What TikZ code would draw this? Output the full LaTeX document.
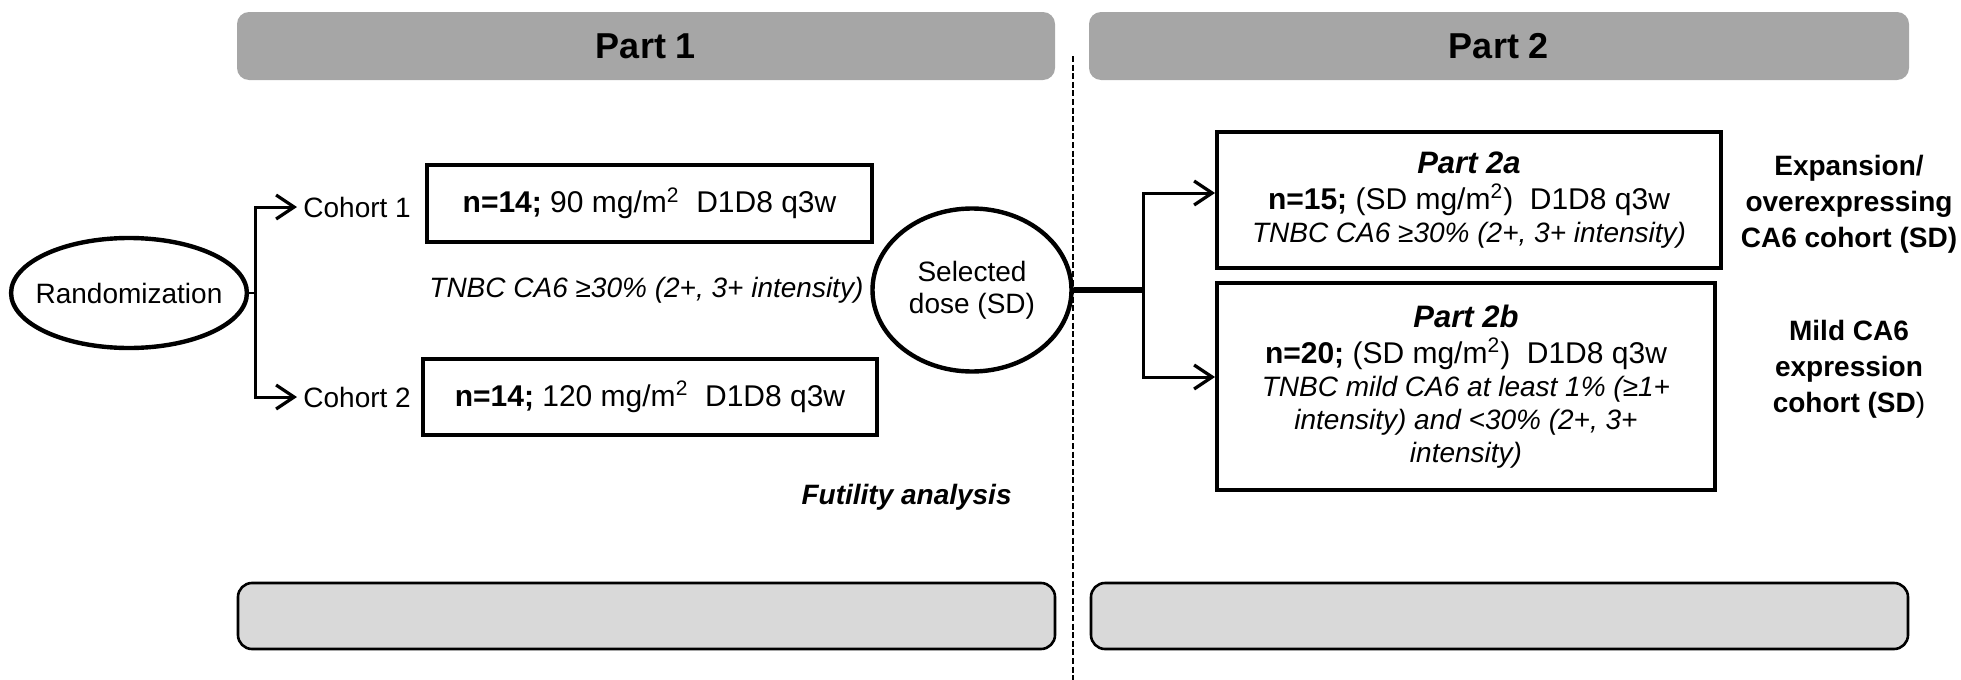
\documentclass[tikz,border=0pt]{standalone}
\usepackage{fontspec}
\setmainfont{Liberation Sans}
\usepackage{xcolor}
\definecolor{barhead}{HTML}{A6A6A6}
\definecolor{barfoot}{HTML}{D9D9D9}
\usetikzlibrary{shapes.geometric, arrows.meta, positioning, calc}

\begin{document}
\begin{tikzpicture}[
  x=0.5pt, y=-0.5pt,
  every node/.style={font=\fontsize{14}{17}\selectfont, inner sep=0pt},
  partbar/.style={fill=barhead, rounded corners=6pt, minimum height=34pt,
                  font=\fontsize{18}{21}\selectfont\bfseries},
  footbar/.style={fill=barfoot, draw=black, line width=1.3pt, rounded corners=7pt,
                  minimum height=33pt},
  dosebox/.style={draw, line width=2pt, align=center, font=\fontsize{15}{16.5}\selectfont},
  armtext/.style={anchor=west, inner sep=3pt},
  stepnote/.style={align=center, font=\fontsize{14}{18}\selectfont\bfseries},
  armline/.style={line width=1.5pt, -{Straight Barb[length=9pt, width=12pt, line width=1.6pt]}},
  feedline/.style={line width=3pt}
]
  \useasboundingbox (0,0) rectangle (1961,680);

  % Phase headers and empty footers
  \node[partbar, minimum width=409pt] (hdr1) at (646,46) {Part 1};
  \node[partbar, minimum width=410pt] (hdr2) at (1499,46) {Part 2};
  \node[footbar, minimum width=408.5pt] (ftr1) at (646.5,616) {};
  \node[footbar, minimum width=408.5pt] (ftr2) at (1499.5,616) {};

  % Divider between the two parts
  \coordinate (divtop) at (1073,56);
  \coordinate (divbot) at (1073,680);
  \draw[line width=1pt, dash pattern=on 3pt off 1.3pt] (divtop) -- (divbot);

  % Part 1: randomization into two cohorts
  \node[ellipse, draw, line width=2.2pt, inner xsep=-5pt, minimum width=116pt, minimum height=55pt]
    (rand) at (129,293) {Randomization};
  \node[armtext] (coh1) at (297,207) {Cohort 1};
  \node[armtext] (coh2) at (297,397) {Cohort 2};
  \node[dosebox, minimum width=222.5pt, minimum height=38.5pt] (dose1) at (649.5,203.5)
    {\textbf{n=14;} 90 mg/m\textsuperscript{2}~~D1D8 q3w};
  \node[dosebox, minimum width=227pt, minimum height=38pt] (dose2) at (650,397)
    {\textbf{n=14;} 120 mg/m\textsuperscript{2}~~D1D8 q3w};
  \node[anchor=west, font=\fontsize{14}{17}\selectfont\itshape] (crit1) at (429,290)
    {TNBC CA6 ≥30\% (2+, 3+ intensity)};
  \node[anchor=east, font=\fontsize{14}{17}\selectfont\bfseries\itshape] (futil) at (1012,497)
    {Futility analysis};

  \coordinate (split1) at (255,293);
  \draw[line width=0.8pt] (rand.east) -- (split1);
  \draw[armline] (split1) |- (coh1.west);
  \draw[armline] (split1) |- (coh2.west);

  % Selected dose
  \node[ellipse, draw, line width=2.2pt, minimum width=99.5pt, minimum height=81.5pt, align=center,
        font=\fontsize{14}{16}\selectfont] (seldose) at (972,290) {Selected\\dose (SD)};

  % Part 2: two expansion arms
  \node[dosebox, minimum width=252pt, minimum height=68pt] (p2a) at (1469,200)
    {{\fontsize{15.5}{17}\selectfont\bfseries\itshape Part 2a}\\[1.5pt]
     \textbf{n=15;} (SD mg/m\textsuperscript{2})~~D1D8 q3w\\
     {\fontsize{14}{16.5}\selectfont\itshape TNBC CA6 ≥30\% (2+, 3+ intensity)}};
  \node[dosebox, minimum width=249pt, minimum height=103.5pt] (p2b) at (1466,386.5)
    {{\fontsize{15.5}{17}\selectfont\bfseries\itshape Part 2b}\\[1.5pt]
     \textbf{n=20;} (SD mg/m\textsuperscript{2})~~D1D8 q3w\\
     {\fontsize{14}{16.5}\selectfont\itshape TNBC mild CA6 at least 1\% (≥1+}\\
     {\fontsize{14}{16.5}\selectfont\itshape intensity) and <30\% (2+, 3+}\\
     {\fontsize{14}{16.5}\selectfont\itshape intensity)}};
  \node[stepnote] (note2a) at (1849,204) {Expansion/\\overexpressing\\CA6 cohort (SD)};
  \node[stepnote] (note2b) at (1849,369) {Mild CA6\\expression\\cohort (SD\textmd{)}};

  \coordinate (split2) at (1143,290);
  \draw[feedline] (seldose.east) -- (split2);
  \draw[armline] (split2) |- ([yshift=3.5pt]p2a.west);
  \draw[armline] (split2) |- ([yshift=4.75pt]p2b.west);
\end{tikzpicture}
\end{document}
